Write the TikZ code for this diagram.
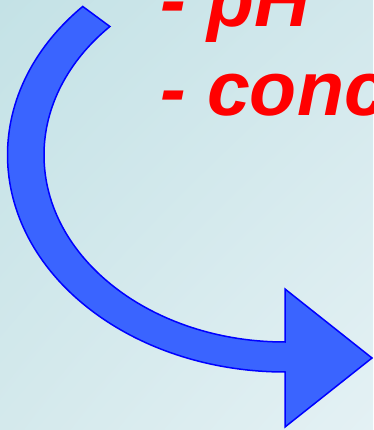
\documentclass[tikz,border=0pt]{standalone}
\usepackage{fontspec}
\setmainfont{Liberation Sans}
\usetikzlibrary{shadings}
\definecolor{bgtl}{RGB}{196,226,230}
\definecolor{bgtr}{RGB}{210,232,236}
\definecolor{bgbl}{RGB}{212,233,236}
\definecolor{bgbr}{RGB}{228,241,244}
\definecolor{arrowfill}{RGB}{58,100,255}
\definecolor{txtred}{RGB}{255,0,0}
\tikzset{
  bigarrow/.style={fill=arrowfill, draw=blue, line width=1.5pt, line join=miter},
  bigtext/.style={text=txtred, font=\fontsize{77}{77}\selectfont\bfseries\itshape, inner sep=0pt, anchor=base west}
}
\begin{document}
\begin{tikzpicture}[x=1pt,y=1pt]
\useasboundingbox (0,0) rectangle (373,430);
\clip (0,0) rectangle (373,430);
\shade[upper left=bgtl, upper right=bgtr, lower left=bgbl, lower right=bgbr] (0,0) rectangle (373,430);
\node[bigtext] (ph) at (160,403) {- pH};
\node[bigtext] (conc) at (160,314) {- conc};
\draw[bigarrow] ([shift={(285,275)}]136.8:277.5 and 217)
  arc[start angle=136.8, end angle=270, x radius=277.5, y radius=217]
  -- (285,3) -- (372,72) -- (285,141) -- (285,88)
  arc[start angle=270, end angle=136.6, x radius=241, y radius=187] -- cycle;
\end{tikzpicture}
\end{document}
